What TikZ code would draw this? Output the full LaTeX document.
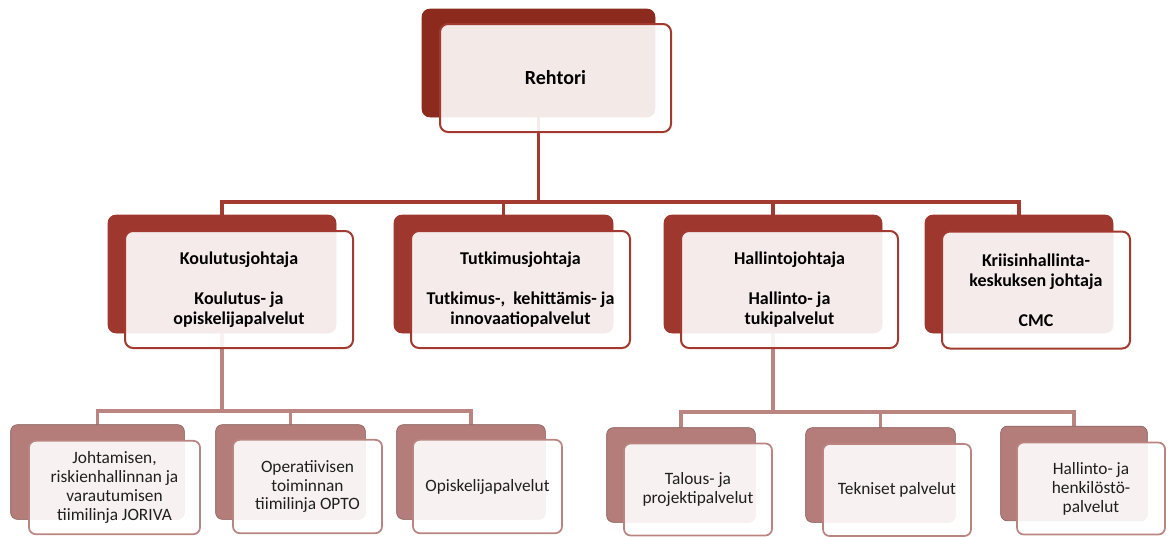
\documentclass[tikz,border=0pt]{standalone}
\usepackage{fontspec}
\setmainfont{Carlito}
\definecolor{topdark}{HTML}{8C2A1E}
\definecolor{middark}{HTML}{9E372D}
\definecolor{midline}{HTML}{A33A30}
\definecolor{lowdark}{HTML}{B47D79}
\definecolor{lowedge}{HTML}{8E6866}
\definecolor{lowline}{HTML}{BA8581}
\tikzset{
  back/.style={rectangle, rounded corners=6pt, inner sep=0pt},
  backtop/.style={back, fill=topdark},
  backmid/.style={back, fill=middark},
  backlow/.style={back, fill=lowdark, draw=lowedge, line width=0.5pt, rounded corners=5pt},
  front/.style={rectangle, rounded corners=6pt, inner sep=0pt, align=center, fill=white, fill opacity=0.9, text opacity=1},
  fronttop/.style={front, draw=midline, line width=1.5pt, font=\fontsize{15}{18}\selectfont\bfseries},
  frontmid/.style={front, draw=midline, line width=1.5pt, font=\fontsize{13.5}{15}\selectfont\bfseries},
  frontlow/.style={front, draw=lowline, line width=1.3pt, rounded corners=5pt, font=\fontsize{13}{14.2}\selectfont, text=black!88},
  conmid/.style={draw=midline, line width=2.3pt},
  conlow/.style={draw=lowline, line width=2.3pt},
}
\begin{document}
\begin{tikzpicture}[x=0.75pt,y=-0.75pt]
\useasboundingbox (0,0) rectangle (1171,536);
% back boxes (positions only, drawn again later)
\path
  (538.5,63) node[backtop, minimum width=174.75pt, minimum height=81pt] (rD) {}
  (222,274) node[backmid, minimum width=171pt, minimum height=88.5pt] (kD) {}
  (503.5,274) node[backmid, minimum width=164.25pt, minimum height=88.5pt] (tD) {}
  (773,274) node[backmid, minimum width=163.5pt, minimum height=88.5pt] (hD) {}
  (1019,274) node[backmid, minimum width=141pt, minimum height=88.5pt] (cD) {}
  (97.5,472) node[backlow, minimum width=129.75pt, minimum height=70.5pt] (jD) {}
  (290.5,472) node[backlow, minimum width=111.75pt, minimum height=70.5pt] (oD) {}
  (471,472) node[backlow, minimum width=111pt, minimum height=70.5pt] (pD) {}
  (681,475) node[backlow, minimum width=111pt, minimum height=70.5pt] (aD) {}
  (880.5,475) node[backlow, minimum width=111.75pt, minimum height=70.5pt] (eD) {}
  (1074,473.5) node[backlow, minimum width=109.5pt, minimum height=70.5pt] (lD) {};
% bus coordinates
\coordinate (bus1) at (538.5,202);
\coordinate (bus2) at (222,411);
\coordinate (bus3) at (773,412);
% connectors level 1
\draw[conmid] (rD.south) -- (bus1) -| (kD.north);
\draw[conmid] (bus1) -| (tD.north);
\draw[conmid] (bus1) -| (hD.north);
\draw[conmid] (bus1) -| (cD.north);
% connectors level 2
\draw[conlow] (kD.south) -- (bus2) -| (jD.north);
\draw[conlow] (bus2) -| (oD.north);
\draw[conlow] (bus2) -| (pD.north);
\draw[conlow] (hD.south) -- (bus3) -| (aD.north);
\draw[conlow] (bus3) -| (eD.north);
\draw[conlow] (bus3) -| (lD.north);
% redraw back boxes on top of connectors
\foreach \n/\s in {rD/backtop,kD/backmid,tD/backmid,hD/backmid,cD/backmid,jD/backlow,oD/backlow,pD/backlow,aD/backlow,eD/backlow,lD/backlow}{
  \path[\s] (\n.south west) rectangle (\n.north east);
}
% front boxes
\node[fronttop, minimum width=173.25pt, minimum height=81pt] (r) at (555.5,78) {Rehtori};
\node[frontmid, minimum width=171pt, minimum height=87.75pt] (k) at (239,289.5) {Koulutusjohtaja\\[15pt]Koulutus- ja\\opiskelijapalvelut};
\node[frontmid, minimum width=164.25pt, minimum height=87.75pt] (t) at (520.5,289.5) {Tutkimusjohtaja\\[15pt]Tutkimus-,\ \ kehittämis- ja\\innovaatiopalvelut};
\node[frontmid, minimum width=162.75pt, minimum height=87.75pt] (h) at (789.5,289.5) {Hallintojohtaja\\[15pt]Hallinto- ja\\tukipalvelut};
\node[frontmid, minimum width=141pt, minimum height=87.75pt] (c) at (1036,290) {Kriisinhallinta-\\keskuksen johtaja\\[15pt]CMC};
\node[frontlow, minimum width=128.25pt, minimum height=70pt] (j) at (114.5,487.5) {Johtamisen,\\riskienhallinnan ja\\varautumisen\\tiimilinja JORIVA};
\node[frontlow, minimum width=111.75pt, minimum height=70pt] (o) at (307.5,486.5) {Operatiivisen\\toiminnan\\tiimilinja OPTO};
\node[frontlow, minimum width=111.75pt, minimum height=70pt] (p) at (487.5,486.5) {Opiskelijapalvelut};
\node[frontlow, minimum width=111pt, minimum height=69pt] (a) at (698,489.5) {Talous- ja\\projektipalvelut};
\node[frontlow, minimum width=111pt, minimum height=69pt] (e) at (897,490) {Tekniset palvelut};
\node[frontlow, minimum width=111pt, minimum height=69pt] (l) at (1091,488.5) {Hallinto- ja\\henkilöstö-\\palvelut};
\end{tikzpicture}
\end{document}
